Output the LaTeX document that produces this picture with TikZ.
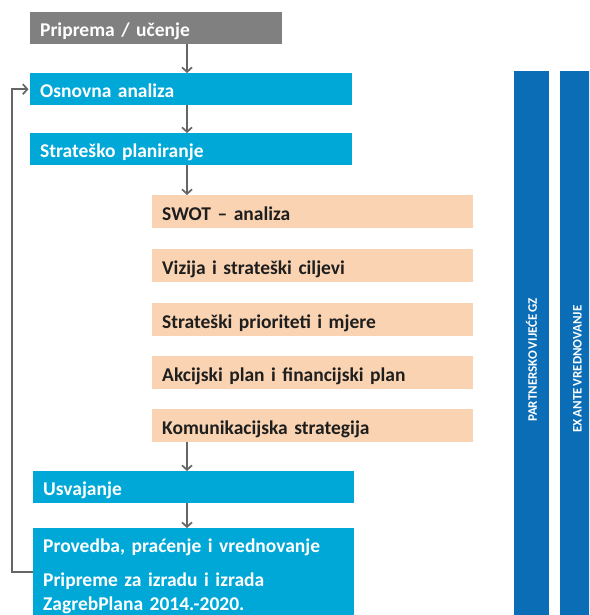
\documentclass[tikz,border=0pt]{standalone}
\usepackage{fontspec}
\setmainfont{Carlito}[WordSpace=0.6]
\usetikzlibrary{arrows.meta}
\definecolor{cyanbox}{HTML}{00A8D8}
\definecolor{graybox}{HTML}{808080}
\definecolor{peach}{HTML}{FAD4B2}
\definecolor{barblue}{HTML}{0B6DB5}
\definecolor{arrowgray}{HTML}{666666}
\definecolor{darktext}{HTML}{1E1E1E}
\begin{document}
\begin{tikzpicture}[x=1pt,y=-1pt,
  stepbox/.style={rectangle, anchor=north west, inner xsep=10pt, inner ysep=0pt,
    minimum height=32pt, text width=301pt, align=left,
    font=\fontsize{19.5}{22}\selectfont\bfseries, text height=19pt, text depth=2pt},
  graystep/.style={stepbox, fill=graybox, text=white},
  cyanstep/.style={stepbox, fill=cyanbox, text=white},
  peachstep/.style={stepbox, fill=peach, text=darktext, minimum height=33pt},
  bigstep/.style={rectangle, anchor=north west, inner xsep=10pt, inner ysep=11pt,
    text width=301pt, align=left, fill=cyanbox, text=white,
    font=\fontsize{19.5}{24.5}\selectfont\bfseries},
  barstep/.style={rectangle, fill=barblue, text=white, rotate=90, inner sep=0pt,
    font=\fontsize{13}{14}\selectfont\bfseries},
  flow/.style={draw=arrowgray, line width=1.7pt, -{Straight Barb[length=4.5pt,width=10pt]}},
  loopline/.style={draw=arrowgray, line width=1.7pt, -{Straight Barb[length=4.5pt,width=10pt]}, shorten >=1.5pt}]
\useasboundingbox (0,0) rectangle (589,615);
\clip (0,0) rectangle (589,615);
\fill[white] (0,0) rectangle (589,615);

\node[graystep, text width=232pt] (prip) at (30,12) {Priprema / učenje};
\node[cyanstep, text width=302pt] (osn) at (30,73) {Osnovna analiza};
\node[cyanstep, text width=302pt] (strat) at (30,133) {Strateško planiranje};

\node[peachstep] (swot) at (152,195) {SWOT – analiza};
\node[peachstep] (viz) at (152,249) {Vizija i strateški ciljevi};
\node[peachstep] (prio) at (152,303) {Strateški prioriteti i mjere};
\node[peachstep] (akc) at (152,356) {Akcijski plan i financijski plan};
\node[peachstep] (kom) at (152,409) {Komunikacijska strategija};

\node[cyanstep] (usv) at (33,471) {Usvajanje};
\node[bigstep] (prov) at (33,528)
  {Provedba, praćenje i vrednovanje\\[9pt]Pripreme za izradu i izrada\\ZagrebPlana 2014.-2020.\\[10pt]\strut};

\node[barstep, minimum width=578pt, minimum height=35pt] (pv) at (531.5,360) {PARTNERSKO VIJEĆE GZ};
\node[barstep, minimum width=596pt, minimum height=35pt] (ea) at (577.5,369) {EX ANTE VREDNOVANJE};

\coordinate (ax) at (187,0);
\draw[flow] (prip.south -| ax) -- (osn.north -| ax);
\draw[flow] (osn.south -| ax) -- (strat.north -| ax);
\draw[flow] (strat.south -| ax) -- (swot.north -| ax);
\draw[flow] (kom.south -| ax) -- (usv.north -| ax);
\draw[flow] (usv.south -| ax) -- (prov.north -| ax);

\coordinate (fbl) at (12,572);
\draw[loopline] (prov.west |- fbl) -- (fbl) |- (osn.west);
\end{tikzpicture}
\end{document}
